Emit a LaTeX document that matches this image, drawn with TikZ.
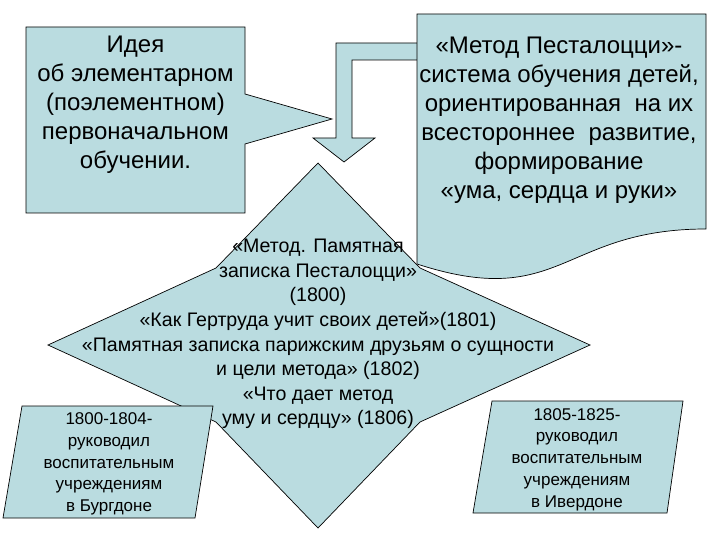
\documentclass[tikz,border=0pt]{standalone}
\usepackage{fontspec}
\setmainfont{Liberation Sans}
\usepackage{tikz}
\usetikzlibrary{positioning}
\usepackage{xcolor}
\definecolor{paleteal}{RGB}{186,220,224}

\begin{document}
\begin{tikzpicture}[
    x=1pt, y=-1pt,
    panel/.style = {draw=black, fill=paleteal, line width=0.7pt, line join=miter},
    bigtext/.style = {align=center, inner sep=0pt, font=\fontsize{24}{29}\selectfont},
    midtext/.style = {align=center, inner sep=0pt, font=\fontsize{19.6}{24.6}\selectfont},
    smalltext/.style = {align=center, inner sep=0pt, font=\fontsize{17}{21.8}\selectfont}
]
\useasboundingbox (0,0) rectangle (720,540);

% Four-point star with works
\draw [panel] (318,163) -- (420,268) -- (590,345) -- (420,422) -- (318,528) -- (216,422) -- (48,345) -- (216,268) -- cycle;

% Bent block arrow
\draw [panel] (425,43) -- (336,43) -- (336,138) -- (313,138) -- (344,162) -- (375,138) -- (352,138) -- (352,60) -- (425,60);

% Document shape
\draw [panel] (417,14) -- (706,14) -- (706,229) .. controls (561.5,229) and (561.5,311) .. (417,264) -- cycle;

% Callout
\draw [panel] (26,27) -- (245,27) -- (245,94) -- (332,119) -- (245,144) -- (245,213) -- (26,213) -- cycle;

% Bottom parallelograms
\draw [panel] (22,406) -- (213,406) -- (195,518) -- (3,518) -- cycle;
\draw [panel] (492,401) -- (683,401) -- (667,513) -- (473,513) -- cycle;

% Texts
\node (idea) [bigtext] at (135.5,105) {Идея\\об элементарном\\(поэлементном)\\первоначальном\\обучении.};
\node (method) [bigtext] at (559,120) {«Метод Песталоцци»-\\система обучения детей,\\ ориентированная\ \ на их\\всестороннее\ \ развитие,\\формирование\\ «ума, сердца и руки»};
\node (works) [midtext] at (318,334) {«Метод. Памятная\\записка Песталоцци»\\(1800)\\«Как Гертруда учит своих детей»(1801)\\«Памятная записка парижским друзьям о сущности\\и цели метода» (1802)\\«Что дает метод\\уму и сердцу» (1806)};
\node (burgdorf) [smalltext] at (109,464) {1800-1804-\\руководил\\воспитательным\\учреждениям\\в Бургдоне};
\node (yverdon) [smalltext] at (577,459.5) {1805-1825-\\руководил\\воспитательным\\учреждениям\\в Ивердоне};

\end{tikzpicture}
\end{document}
